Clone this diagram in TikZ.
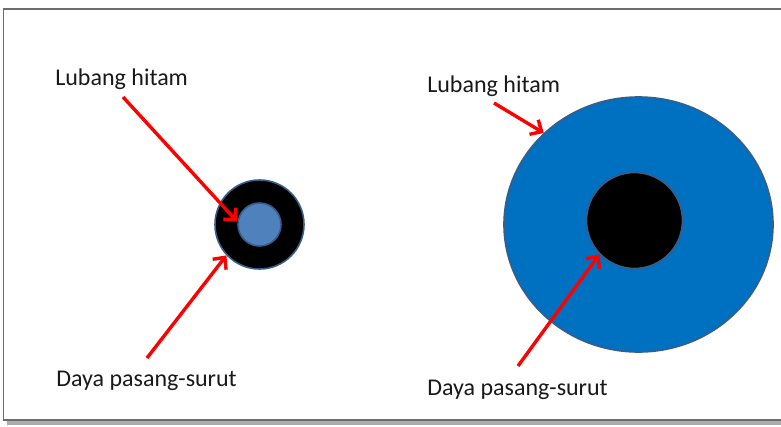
\documentclass[tikz,border=0pt]{standalone}
\usepackage{fontspec}
\setmainfont{Carlito}
\usetikzlibrary{arrows.meta,shapes.geometric}
\definecolor{holeblue}{HTML}{4F81BD}
\definecolor{starblue}{HTML}{0070C0}
\definecolor{rimblue}{HTML}{385D8A}

\begin{document}
\begin{tikzpicture}[x=1pt,y=-1pt
	,>={Straight Barb[length=9pt,width=17pt]}
	,font=\fontsize{24}{28}\selectfont
	,semithick]
  \tikzstyle{body}=[circle,draw=rimblue,line width=1.6pt,inner sep=0pt]
  \tikzstyle{pull}=[->,red,line width=3.4pt]
  \tikzstyle{words}=[anchor=base west,inner sep=0pt,text=black!90]

  \useasboundingbox (0,0) rectangle (781,426);
  \clip (0,0) rectangle (781,426);
  % frame and its shadow
  \fill[gray!65] (6.5,12) rectangle (800,425);
  \draw[gray!85!black,line width=1.5pt,fill=white] (3.5,9) rectangle (795,420);

  % left: small star with the hole in it
  \node[body,fill=black,minimum size=89pt] (lstar) at (259.5,224.5) {};
  \node[body,fill=holeblue,minimum size=43pt] (lhole) at (259.5,224.5) {};
  % right: big star with the hole in it
  \node[body,ellipse,fill=starblue,minimum width=269pt,minimum height=255pt]
    (bstar) at (638.5,224.5) {};
  \node[body,fill=black,minimum size=96pt] (bhole) at (634.5,220.5) {};

  % texts
  \node[words] (lhtext) at (55,85.5)  {Lubang hitam};
  \node[words] (ldtext) at (56,386)   {Daya pasang-surut};
  \node[words] (bhtext) at (427,92.3) {Lubang hitam};
  \node[words] (bdtext) at (427,395)  {Daya pasang-surut};

  % arrow tails
  \coordinate (lhtail) at (123,97);
  \coordinate (ldtail) at (147,358);
  \coordinate (bhtail) at (494,103);
  \coordinate (bdtail) at (518,366);

  \draw[pull] (lhtail) -- (lhole.173);
  \draw[pull] (ldtail) -- (lstar.223);
  \draw[pull] (bhtail) -- (bstar.136);
  \draw[pull] (bdtail) -- (bhole.224);
\end{tikzpicture}
\end{document}
